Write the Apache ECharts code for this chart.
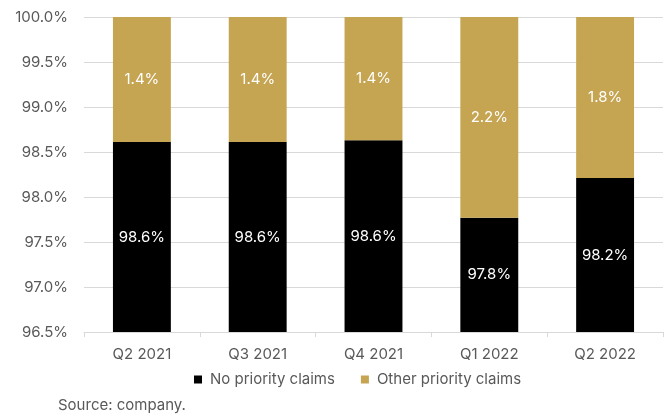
<!DOCTYPE html>
<html>
<head>
<meta charset="utf-8">
<script src="https://cdn.jsdelivr.net/npm/echarts@6/dist/echarts.min.js"></script>
<style>
html, body { margin: 0; padding: 0; background: #fff; }
#chart { width: 672px; height: 417px; }
</style>
</head>
<body>
<div id="chart"></div>
<script>
const categories = ["Q2 2021", "Q3 2021", "Q4 2021", "Q1 2022", "Q2 2022"];
const noPriority = [98.61, 98.61, 98.63, 97.77, 98.21];
const otherPriority = [1.39, 1.39, 1.37, 2.23, 1.79];

const color = {
    text: "#595959",
    grid: "#d9d9d9",
    black: "#000000",
    gold: "#c5a452",
};
const font = "Inter, 'Noto Sans', sans-serif";

const chart = echarts.init(document.getElementById("chart"));
chart.setOption({
    animation: false,
    textStyle: { fontFamily: font },
    grid: { left: 84, right: 9, top: 17, bottom: 85 },
    legend: {
        top: 367,
        left: 189,
        itemWidth: 8,
        itemHeight: 8,
        itemGap: 26,
        icon: "rect",
        textStyle: { color: color.text, fontSize: 15, fontFamily: font, padding: [0, 0, 0, 3] },
        data: ["No priority claims", "Other priority claims"],
    },
    graphic: [{
        type: "text",
        left: 58,
        top: 398,
        style: { text: "Source: company.", fill: color.text, font: "15px " + font },
    }],
    xAxis: {
        type: "category",
        data: categories,
        axisLine: { lineStyle: { color: color.grid, width: 1 } },
        axisTick: { show: true, length: 5, lineStyle: { color: color.grid } },
        axisLabel: { color: color.text, fontSize: 15, margin: 15 },
    },
    yAxis: {
        type: "value",
        min: 96.5,
        max: 100,
        interval: 0.5,
        axisLine: { show: false },
        axisTick: { show: false },
        splitLine: { lineStyle: { color: color.grid, width: 1 } },
        axisLabel: {
            color: color.text,
            fontSize: 15,
            margin: 16,
            formatter: v => v.toFixed(1) + "%",
        },
    },
    series: [
        {
            name: "No priority claims",
            type: "bar",
            stack: "total",
            barWidth: "50%",
            data: noPriority,
            itemStyle: { color: color.black },
            label: {
                show: true,
                position: "inside",
                color: "#fff",
                fontSize: 15,
                formatter: p => p.value.toFixed(1) + "%",
            },
        },
        {
            name: "Other priority claims",
            type: "bar",
            stack: "total",
            barWidth: "50%",
            data: otherPriority,
            itemStyle: { color: color.gold },
            label: {
                show: true,
                position: "inside",
                color: "#fff",
                fontSize: 15,
                formatter: p => p.value.toFixed(1) + "%",
            },
        },
    ],
});
</script>
</body>
</html>
